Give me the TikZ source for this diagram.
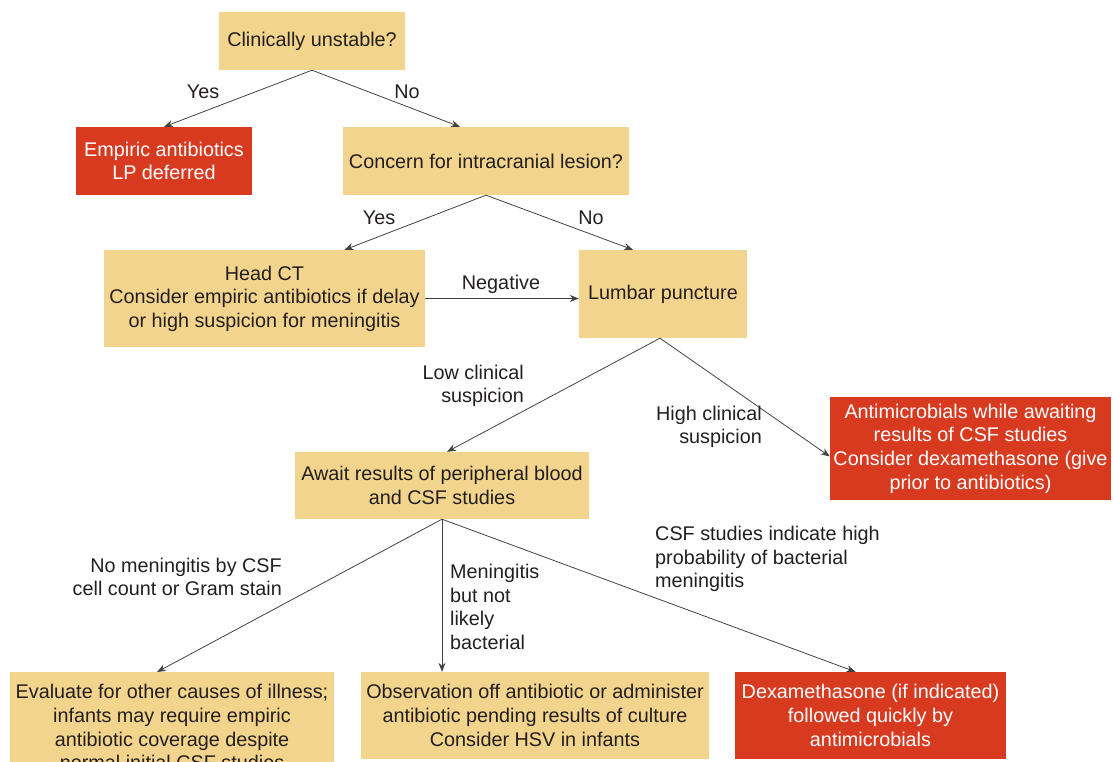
\documentclass[tikz,border=0pt]{standalone}
\usepackage{fontspec}
\setmainfont{Liberation Sans}
\usetikzlibrary{arrows.meta,calc}
\definecolor{tanbox}{RGB}{242,212,141}
\definecolor{redbox}{RGB}{216,58,32}
\definecolor{ink}{RGB}{35,31,32}
\begin{document}
\begin{tikzpicture}[x=1pt,y=-1pt,
  every node/.style={font=\fontsize{19.8}{23.6}\selectfont, text=ink},
  decision/.style={fill=tanbox, align=center, inner sep=0pt},
  alert/.style={fill=redbox, align=center, inner sep=0pt, text=white},
  lbl/.style={inner sep=0pt},
  arr/.style={draw=ink!85, line width=0.8pt, -{Stealth[length=9pt,width=7pt]}}
]
\useasboundingbox (0,0) rectangle (1114,762);
\clip (0,0) rectangle (1114,762);

% boxes
\node[decision, minimum width=186pt, minimum height=58pt] (b1) at (312,41) {Clinically unstable?};
\node[alert, minimum width=176pt, minimum height=68pt] (r1) at (164,161) {Empiric antibiotics\\LP deferred};
\node[decision, minimum width=286pt, minimum height=68pt] (b2) at (486,161) {Concern for intracranial lesion?};
\node[decision, minimum width=321pt, minimum height=97pt] (b3) at (264.5,298.5) {Head CT\\Consider empiric antibiotics if delay\\or high suspicion for meningitis};
\node[decision, minimum width=168pt, minimum height=88pt] (b4) at (663,294) {Lumbar puncture};
\node[alert, minimum width=281pt, minimum height=103pt] (r2) at (970.5,448.5) {Antimicrobials while awaiting\\results of CSF studies\\Consider dexamethasone (give\\prior to antibiotics)};
\node[decision, minimum width=294pt, minimum height=67pt] (b5) at (442,485.5) {Await results of peripheral blood\\and CSF studies};
\node[decision, anchor=north, minimum width=324pt, minimum height=110pt, inner ysep=6pt] (b6) at (172,672) {Evaluate for other causes of illness;\\infants may require empiric\\antibiotic coverage despite\\normal initial CSF studies};
\node[decision, minimum width=348pt, minimum height=87pt] (b7) at (535,715.5) {Observation off antibiotic or administer\\antibiotic pending results of culture\\Consider HSV in infants};
\node[alert, minimum width=271pt, minimum height=87pt] (r3) at (870.5,715.5) {Dexamethasone (if indicated)\\followed quickly by\\antimicrobials};

% connectors
\draw[arr] (b1.south) -- (r1.north);
\draw[arr] (b1.south) -- ([xshift=-26pt]b2.north);
\draw[arr] (b2.south) -- ([xshift=80pt]b3.north);
\draw[arr] (b2.south) -- ([xshift=-30pt]b4.north);
\draw[arr] (b3.east) -- (b3.east -| b4.west);
\draw[arr] ([xshift=-3pt]b4.south) -- ([xshift=5pt]b5.north);
\draw[arr] ([xshift=-3pt]b4.south) -- ([yshift=-8pt]r2.west);
\draw[arr] (b5.south) -- ([xshift=-15pt]b6.north);
\draw[arr] (b5.south) -- ([xshift=-93pt]b7.north);
\draw[arr] (b5.south) -- ([xshift=-15pt]r3.north);

% branch labels
\node[lbl] (l1) at (203,92) {Yes};
\node[lbl] (l2) at (407,92) {No};
\node[lbl] (l3) at (379,218) {Yes};
\node[lbl] (l4) at (591,218) {No};
\node[lbl] (l5) at (501,284) {Negative};
\node[lbl, align=right, anchor=east] (l6) at (524,386) {Low clinical\\suspicion};
\node[lbl, align=right, anchor=east] (l7) at (762,427) {High clinical\\suspicion};
\node[lbl, align=right, anchor=east] (l8) at (282,577) {No meningitis by CSF\\cell count or Gram stain};
\node[lbl, align=left, anchor=west] (l9) at (450,607) {Meningitis\\but not\\likely\\bacterial};
\node[lbl, align=left, anchor=west] (l10) at (655,559) {CSF studies indicate high\\probability of bacterial\\meningitis};
\end{tikzpicture}
\end{document}
